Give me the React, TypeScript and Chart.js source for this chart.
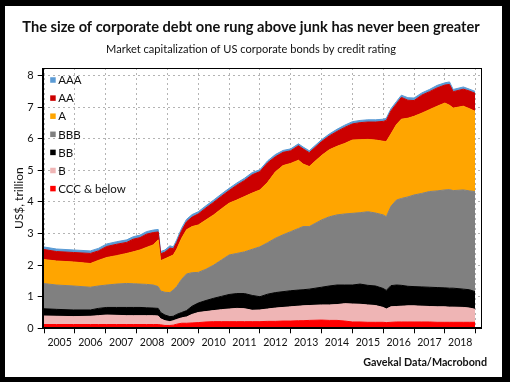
import React, { useEffect, useRef } from 'react';
import { Chart, registerables } from 'chart.js';

Chart.register(...registerables);

// ---- Data (US$ trillion) ----
const dates = [
  2004.96, 2005.4, 2005.95, 2006.5, 2006.76, 2007.03, 2007.35, 2007.68, 2007.89, 2008.11,
  2008.32, 2008.54, 2008.7, 2008.78, 2008.92, 2009.08, 2009.19, 2009.3, 2009.46, 2009.62,
  2009.8, 2010.0, 2010.25, 2010.5, 2010.75, 2011.0, 2011.25, 2011.5, 2011.75, 2012.0,
  2012.25, 2012.5, 2012.75, 2013.0, 2013.25, 2013.4, 2013.6, 2014.0, 2014.25, 2014.5,
  2014.75, 2015.0, 2015.25, 2015.5, 2015.75, 2016.0, 2016.1, 2016.25, 2016.43, 2016.59,
  2016.8, 2017.0, 2017.25, 2017.5, 2017.75, 2018.0, 2018.15, 2018.27, 2018.6, 2018.8,
  2018.98,
];

const cccBelow = [
  .12, .12, .12, .12, .12, .12, .12, .12, .12, .12,
  .12, .12, .12, .11, .09, .09, .10, .13, .16, .16,
  .17, .18, .20, .21, .21, .21, .21, .21, .21, .21,
  .22, .22, .23, .23, .24, .24, .25, .26, .25, .25,
  .23, .20, .20, .19, .19, .19, .18, .19, .20, .20,
  .20, .20, .20, .20, .19, .19, .19, .19, .19, .19,
  .19,
];
const ratingB = [
  .27, .26, .25, .26, .28, .30, .29, .28, .28, .28,
  .28, .28, .27, .19, .15, .12, .14, .15, .17, .20,
  .27, .32, .33, .35, .38, .40, .42, .41, .36, .37,
  .39, .42, .43, .45, .46, .47, .47, .48, .49, .50,
  .55, .57, .56, .55, .53, .47, .43, .49, .49, .50,
  .51, .51, .50, .49, .49, .49, .48, .48, .47, .45,
  .41,
];
const ratingBB = [
  .23, .22, .21, .20, .23, .24, .25, .26, .26, .26,
  .25, .24, .24, .20, .18, .16, .14, .16, .17, .20,
  .26, .30, .35, .39, .42, .46, .47, .48, .47, .42,
  .47, .49, .50, .51, .51, .51, .52, .56, .60, .62,
  .59, .60, .64, .62, .62, .60, .59, .67, .68, .66,
  .62, .61, .61, .61, .61, .60, .60, .60, .58, .58,
  .56,
];
const ratingBBB = [
  .80, .77, .76, .72, .71, .71, .74, .76, .75, .74,
  .74, .73, .69, .68, .72, .76, .83, .88, 1.05, 1.16,
  1.06, .97, .99, 1.05, 1.15, 1.25, 1.27, 1.32, 1.46, 1.58,
  1.63, 1.72, 1.80, 1.87, 1.95, 2.00, 1.98, 2.13, 2.19, 2.22,
  2.25, 2.27, 2.26, 2.33, 2.31, 2.33, 2.33, 2.51, 2.69, 2.75,
  2.83, 2.90, 2.96, 3.03, 3.06, 3.10, 3.12, 3.09, 3.14, 3.13,
  3.17,
];
const ratingA = [
  .76, .76, .76, .75, .81, .87, .90, .95, 1.01, 1.08,
  1.17, 1.27, 1.48, .96, 1.06, 1.14, 1.11, 1.18, 1.30, 1.40,
  1.46, 1.50, 1.56, 1.59, 1.62, 1.64, 1.69, 1.75, 1.78, 1.80,
  1.91, 2.10, 2.19, 2.16, 2.16, 1.98, 1.90, 2.04, 2.12, 2.17,
  2.23, 2.32, 2.31, 2.29, 2.31, 2.33, 2.38, 2.29, 2.39, 2.51,
  2.49, 2.49, 2.54, 2.59, 2.68, 2.75, 2.67, 2.61, 2.65, 2.60,
  2.54,
];
const ratingAA = [
  .32, .30, .30, .32, .30, .35, .36, .35, .40, .39,
  .42, .39, .25, .22, .21, .27, .20, .22, .24, .25,
  .30, .35, .38, .40, .40, .40, .47, .51, .58, .58,
  .62, .48, .42, .40, .46, .48, .44, .44, .44, .47,
  .51, .51, .54, .55, .57, .63, .67, .73, .66, .69,
  .57, .50, .57, .57, .58, .57, .66, .52, .54, .56,
  .57,
];
const ratingAAA = [
  .08, .08, .08, .08, .08, .08, .08, .08, .08, .08,
  .08, .08, .08, .07, .07, .07, .06, .08, .08, .08,
  .08, .07, .07, .07, .07, .07, .07, .07, .07, .06,
  .06, .07, .06, .06, .06, .06, .06, .06, .06, .07,
  .07, .07, .07, .07, .07, .07, .07, .07, .07, .07,
  .08, .08, .07, .07, .08, .07, .08, .07, .07, .06,
  .06,
];

const seriesLabels = ['CCC & below', 'B', 'BB', 'BBB', 'A', 'AA', 'AAA'];
const seriesColors = ['#ff0000', '#efb5b5', '#000000', '#808080', '#ffa500', '#cc0000', '#5b9bd5'];
const seriesValues = [cccBelow, ratingB, ratingBB, ratingBBB, ratingA, ratingAA, ratingAAA];

const yearTicks = [2005, 2006, 2007, 2008, 2009, 2010, 2011, 2012, 2013, 2014, 2015, 2016, 2017, 2018, 2019];
const valueTicks = [0, 1, 2, 3, 4, 5, 6, 7, 8];

const titleText = 'The size of corporate debt one rung above junk has never been greater';
const subtitleText = 'Market capitalization of US corporate bonds by credit rating';
const sourceText = 'Gavekal Data/Macrobond';
const yTitle = 'US$, trillion';

const FONT = 'Lato, "Open Sans", sans-serif';

function fitFont(ctx: CanvasRenderingContext2D, text: string, weight: string, width: number) {
  ctx.font = `${weight} 100px ${FONT}`;
  const w = ctx.measureText(text).width;
  const size = (100 * width) / w;
  ctx.font = `${weight} ${size.toFixed(2)}px ${FONT}`;
}

const decorPlugin = {
  id: 'decor',
  afterDraw(chart: any) {
    const { ctx, chartArea: ca } = chart;
    ctx.save();
    // plot frame
    ctx.strokeStyle = '#000';
    ctx.lineWidth = 1;
    const l = Math.round(ca.left) + 0.5;
    const t = Math.round(ca.top) + 0.5;
    const r = Math.round(ca.right) - 0.5;
    const b = Math.round(ca.bottom) - 0.5;
    ctx.strokeRect(l, t, r - l, b - t);

    // legend inside plot
    ctx.font = `11.5px ${FONT}`;
    ctx.textBaseline = 'middle';
    ctx.textAlign = 'left';
    const ds = chart.data.datasets.slice().reverse();
    ds.forEach((d: any, i: number) => {
      const cy = ca.top + 12 + i * 18.1;
      ctx.fillStyle = d.backgroundColor;
      ctx.fillRect(ca.left + 7.5, cy - 2.75, 5.5, 5.5);
      ctx.fillStyle = '#111';
      ctx.fillText(d.label, ca.left + 15.6, cy + 0.5);
    });

    // titles
    ctx.fillStyle = '#111';
    ctx.textBaseline = 'alphabetic';
    ctx.textAlign = 'center';
    fitFont(ctx, titleText, 'bold', 458);
    ctx.fillText(titleText, 251, 31.7);
    fitFont(ctx, subtitleText, 'normal', 290);
    ctx.fillText(subtitleText, 251, 53.3);
    ctx.textAlign = 'right';
    fitFont(ctx, sourceText, 'bold', 124);
    ctx.fillText(sourceText, 487, 366);
    ctx.restore();
  },
};

export default function App() {
  const ref = useRef<HTMLCanvasElement>(null);

  useEffect(() => {
    if (!ref.current) return;
    const datasets = seriesValues.map((vals, i) => ({
      label: seriesLabels[i],
      data: dates.map((x, j) => ({ x, y: vals[j] })),
      backgroundColor: seriesColors[i],
      borderColor: seriesColors[i],
      borderWidth: 1,
      pointRadius: 0,
      pointHitRadius: 0,
      tension: 0,
      fill: i === 0 ? 'origin' : '-1',
    }));

    const gridOpts = {
      color: '#b4b4b4',
      lineWidth: 1,
      drawTicks: true,
      tickLength: 5,
      tickColor: '#000',
      tickWidth: 1,
    };
    const borderOpts = { display: true, color: '#000', width: 1, dash: [2, 3] };

    const chart = new Chart(ref.current, {
      type: 'line',
      data: { datasets },
      plugins: [decorPlugin],
      options: {
        responsive: false,
        maintainAspectRatio: false,
        devicePixelRatio: 1,
        animation: false,
        events: [],
        layout: { padding: { top: 68, left: 0, right: 28.3, bottom: 32.7 } },
        plugins: {
          legend: { display: false },
          tooltip: { enabled: false },
          title: { display: false },
        },
        scales: {
          x: {
            type: 'linear',
            min: 2004.953,
            max: 2019.195,
            afterBuildTicks: (s: any) => {
              s.ticks = yearTicks.map((v) => ({ value: v }));
            },
            afterFit: (s: any) => {
              s.height = 25;
            },
            grid: gridOpts,
            border: borderOpts,
            ticks: {
              autoSkip: false,
              maxRotation: 0,
              labelOffset: 15.42,
              padding: 3,
              color: '#111',
              font: { family: FONT, size: 10.5 },
              callback: (v: any) => (v < 2019 ? String(v) : ''),
            },
          },
          y: {
            type: 'linear',
            stacked: true,
            min: 0,
            max: 8.24,
            afterBuildTicks: (s: any) => {
              s.ticks = valueTicks.map((v) => ({ value: v }));
            },
            afterFit: (s: any) => {
              s.width = 42.7;
            },
            grid: gridOpts,
            border: borderOpts,
            ticks: {
              padding: 4,
              color: '#111',
              font: { family: FONT, size: 11 },
            },
            title: {
              display: true,
              text: yTitle,
              color: '#111',
              font: { family: FONT, size: 12 },
              padding: { top: 11.8, bottom: 0 },
            },
          },
        },
      },
    } as any);

    return () => chart.destroy();
  }, []);

  return (
    <div
      style={{
        position: 'fixed',
        left: 0,
        top: 0,
        width: 510,
        height: 386,
        background: '#fff',
        overflow: 'hidden',
      }}
    >
      <canvas
        ref={ref}
        width={510}
        height={386}
        style={{ position: 'absolute', left: 0, top: 0, width: 510, height: 386 }}
      />
      <div
        style={{
          position: 'absolute',
          left: 0,
          top: 0,
          width: 510,
          height: 382,
          boxSizing: 'border-box',
          borderStyle: 'solid',
          borderColor: '#000',
          borderWidth: '6px 8px 5px 5px',
          pointerEvents: 'none',
        }}
      />
    </div>
  );
}
